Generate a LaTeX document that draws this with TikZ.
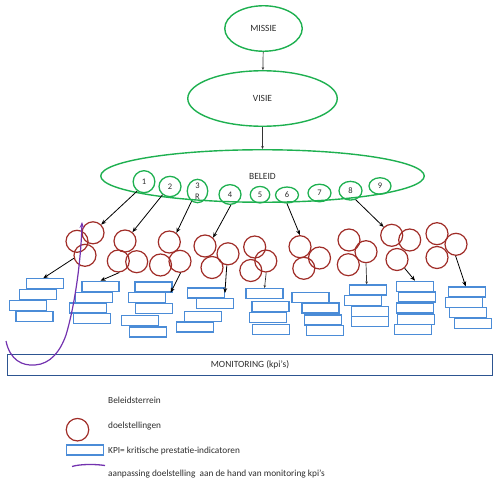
\documentclass[tikz,border=0pt]{standalone}
\usepackage{fontspec}
\setmainfont{Carlito}
\usetikzlibrary{shapes.geometric,arrows.meta}
\definecolor{grn}{RGB}{30,176,80}
\definecolor{dred}{RGB}{160,45,40}
\definecolor{kblue}{RGB}{75,140,215}
\definecolor{mblue}{RGB}{45,85,145}
\definecolor{purp}{RGB}{115,50,175}
\definecolor{txt}{RGB}{45,45,45}
\begin{document}
\begin{tikzpicture}[x=1pt,y=-1pt,
  gell/.style={ellipse, draw=grn, line width=1.4pt, inner sep=0pt, text=txt, font=\fontsize{9.5}{11}\selectfont},
  numc/.style={ellipse, draw=grn, line width=1.3pt, inner sep=0pt, text=txt, font=\fontsize{8.5}{11}\selectfont, align=center},
  doel/.style={circle, draw=dred, line width=1.2pt, minimum size=22pt, inner sep=0pt},
  kpi/.style={rectangle, draw=kblue, line width=1.2pt, minimum width=37pt, minimum height=10pt, inner sep=0pt},
  arr/.style={-{Stealth[length=5pt,width=4pt]}, line width=0.8pt, black},
  thinarr/.style={-{Stealth[length=3pt,width=2.5pt]}, line width=0.7pt, black!80},
  legtext/.style={anchor=west, text=txt, font=\fontsize{9.3}{11}\selectfont, inner sep=0pt}
]
\useasboundingbox (0,0) rectangle (500,481);

% top ellipses
\node[gell, minimum width=77.5pt, minimum height=45.5pt] (missie) at (263.5,28.5) {MISSIE};
\node[gell, minimum width=149.5pt, minimum height=55.5pt] (visie) at (262.5,98.5) {VISIE};
\node[gell, minimum width=323.5pt, minimum height=52.5pt] (beleid) at (262.5,176) {BELEID};
\draw[thinarr] (missie) -- (visie);
\draw[thinarr] (visie) -- (beleid);

% numbered circles
\node[numc, minimum width=21.7pt, minimum height=22pt] (n1) at (144,181.7) {1};
\node[numc, minimum width=22pt, minimum height=20.3pt] (n2) at (170,186.5) {2};
\node[numc, minimum width=20.5pt, minimum height=20.5pt] (n3) at (197.5,191) {3\\R};
\node[numc, minimum width=22pt, minimum height=19.7pt] (n4) at (230,194.5) {4};
\node[numc, minimum width=19.5pt, minimum height=16.5pt] (n5) at (260,194.7) {5};
\node[numc, minimum width=23pt, minimum height=16pt] (n6) at (287,195) {6};
\node[numc, minimum width=23pt, minimum height=17.5pt] (n7) at (319.5,193) {7};
\node[numc, minimum width=23pt, minimum height=18.7pt] (n8) at (350.5,190.7) {8};
\node[numc, minimum width=22pt, minimum height=16.5pt] (n9) at (380,186) {9};

% doelstellingen clusters
\node[doel] (a1) at (93,232.8) {};
\node[doel] (a2) at (77,241.3) {};
\node[doel] (a3) at (85,255.3) {};
\node[doel] (b1) at (125,241) {};
\node[doel] (b2) at (118.3,261) {};
\node[doel] (b3) at (136.7,261.7) {};
\node[doel] (c1) at (169.3,242) {};
\node[doel] (c2) at (160.5,265) {};
\node[doel] (c3) at (180,261.3) {};
\node[doel] (d1) at (205,246) {};
\node[doel] (d2) at (212,267.5) {};
\node[doel] (d3) at (228,253.8) {};
\node[doel] (e1) at (254.7,247) {};
\node[doel] (e2) at (265.8,261) {};
\node[doel] (e3) at (250.8,270.5) {};
\node[doel] (f1) at (300,246.7) {};
\node[doel] (f2) at (319.5,258) {};
\node[doel] (f3) at (303.8,268.3) {};
\node[doel] (g1) at (349,240) {};
\node[doel] (g2) at (366,251.7) {};
\node[doel] (g3) at (348.3,264.7) {};
\node[doel] (h1) at (391.7,235.3) {};
\node[doel] (h2) at (409.7,240) {};
\node[doel] (h3) at (397,259.5) {};
\node[doel] (i1) at (437,233.7) {};
\node[doel] (i2) at (456,244.3) {};
\node[doel] (i3) at (437,257.5) {};

% KPI rectangles
\node[kpi] (ra1) at (45,283.8) {};
\node[kpi] (ra2) at (37.8,294.2) {};
\node[kpi] (ra3) at (28.3,305.3) {};
\node[kpi] (ra4) at (34.5,316.7) {};
\node[kpi] (rb1) at (100.5,286.3) {};
\node[kpi] (rb2) at (93.8,297.5) {};
\node[kpi] (rb3) at (87.8,308) {};
\node[kpi] (rb4) at (91.7,318.7) {};
\node[kpi] (rc1) at (153.5,287) {};
\node[kpi] (rc2) at (147.2,297.8) {};
\node[kpi] (rc3) at (153.8,308.7) {};
\node[kpi] (rc4) at (140.3,320.3) {};
\node[kpi] (rc5) at (147.8,332) {};
\node[kpi] (rd1) at (205.8,293) {};
\node[kpi] (rd2) at (214.7,303.7) {};
\node[kpi] (rd3) at (203.3,316.2) {};
\node[kpi] (rd4) at (195,327) {};
\node[kpi] (re1) at (264.5,293.7) {};
\node[kpi] (re2) at (270.5,306.2) {};
\node[kpi] (re3) at (267.8,317.8) {};
\node[kpi] (re4) at (270.8,329.5) {};
\node[kpi] (rf1) at (310.5,297.8) {};
\node[kpi] (rf2) at (320.5,308) {};
\node[kpi] (rf3) at (322.8,320) {};
\node[kpi] (rf4) at (324.8,330.3) {};
\node[kpi] (rg1) at (367.7,290) {};
\node[kpi] (rg2) at (363,300.8) {};
\node[kpi] (rg3) at (369.7,311.2) {};
\node[kpi] (rg4) at (369.7,321.7) {};
\node[kpi] (rh1) at (415,286.3) {};
\node[kpi] (rh2) at (416.7,297) {};
\node[kpi] (rh3) at (414.7,308) {};
\node[kpi] (rh4) at (416.3,319.2) {};
\node[kpi] (rh5) at (412.8,329.7) {};
\node[kpi] (ri1) at (467.2,292) {};
\node[kpi] (ri2) at (463.8,302.5) {};
\node[kpi] (ri3) at (468,312.5) {};
\node[kpi] (ri4) at (473,323.8) {};

% arrows from beleid circles to clusters
\draw[arr] (n1.234) -- (a1.45);
\draw[arr] (n2.228) -- (b1.50);
\draw[arr] (n3.240) -- (c1.52);
\draw[arr] (n4.275) -- (d1.46);
\draw[arr] (n6.270) -- (f1.90);
\draw[arr] (n8.300) -- (h1.134);

% arrows from clusters to kpi groups
\draw[arr] (a3.195) -- ([xshift=-1.7pt]ra1.north);
\draw[arr] (b2.275) -- (rb1.north);
\draw[arr] (c3.273) -- ([xshift=-2pt]rc1.south east);
\draw[arr] (d3.264) -- (rd1.east);
\draw[thinarr] (e2.272) -- (re1.north);
\draw[thinarr] (g2.270) -- ([xshift=-1pt]rg1.north);
\draw[arr] (h3.311) -- (rh1.north);
\draw[arr] (i2.268) -- ([xshift=-1.5pt]ri1.north);

% monitoring bar
\node[draw=mblue, line width=1.3pt, minimum width=485pt, minimum height=21pt, inner sep=0pt, text=txt, font=\fontsize{9.5}{11}\selectfont] (mon) at (250,365) {MONITORING (kpi's)};

% purple feedback curve
\coordinate (pstart) at (6,341);
\coordinate (ptip) at (82,222);
\draw[purp, line width=1.2pt, -{Stealth[length=6pt,width=4.5pt]}] (pstart) .. controls (10,360) and (22,366) .. (35,365) .. controls (50,364) and (60,352) .. (66,335) .. controls (75,305) and (81,260) .. (ptip);

% legend
\node[legtext] (l1) at (108,400) {Beleidsterrein};
\node[doel, minimum size=22.5pt] (ldoel) at (77.5,429.7) {};
\node[legtext] (l2) at (108,426) {doelstellingen};
\node[kpi] (lkpi) at (85.2,450) {};
\node[legtext] (l3) at (108,451.5) {KPI= kritische prestatie-indicatoren};
\coordinate (lp1) at (72,466.5);
\coordinate (lp2) at (105,465.5);
\draw[purp, line width=1.3pt] (lp1) .. controls (80,464) and (95,464) .. (lp2);
\node[legtext] (l4) at (108,474.3) {aanpassing doelstelling\ \ aan de hand van monitoring kpi's};
\end{tikzpicture}
\end{document}
